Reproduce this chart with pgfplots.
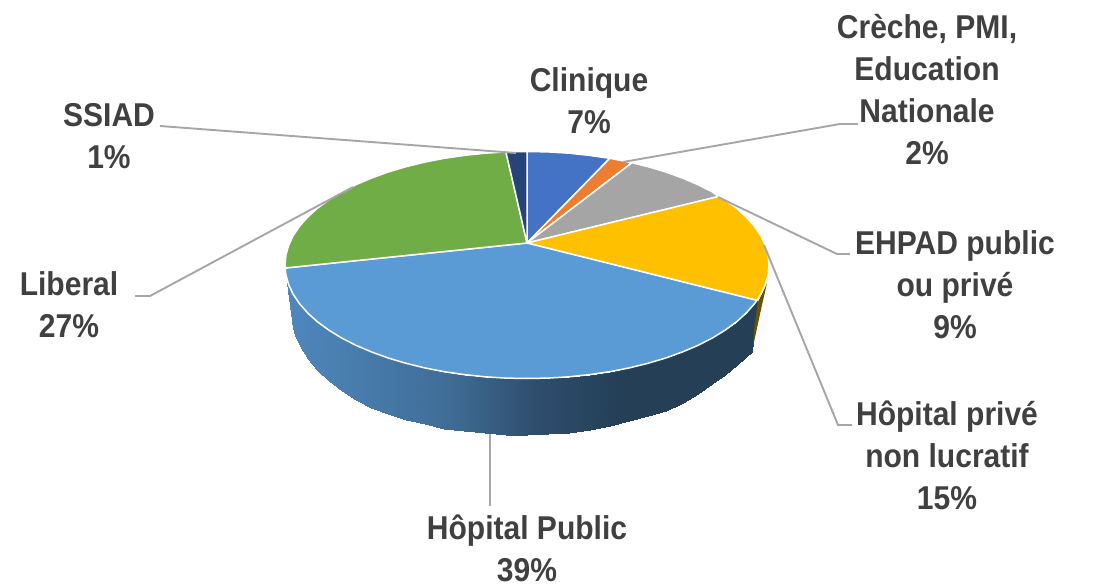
\documentclass[border=0pt]{standalone}
\usepackage{pgfplots}
\pgfplotsset{compat=1.18}
\usepackage{fontspec}
\setmainfont{Liberation Sans}[BoldFont=Liberation Sans Bold,BoldFeatures={FakeStretch=0.91}]
\definecolor{cClin}{HTML}{4472C4}
\definecolor{cCre}{HTML}{ED7D31}
\definecolor{cEhp}{HTML}{A5A5A5}
\definecolor{cPri}{HTML}{FFC000}
\definecolor{cPub}{HTML}{5B9BD5}
\definecolor{cLib}{HTML}{70AD47}
\definecolor{cSsi}{HTML}{264478}
\definecolor{cBrown}{HTML}{6B5200}
\definecolor{cLead}{HTML}{A6A6A6}
\definecolor{cTxt}{HTML}{404040}
\tikzset{
  slice/.style={draw=white, line width=1.5pt, line join=round},
  lead/.style={draw=cLead, line width=1.9pt, no markers},
  lab/.style={align=center, font=\fontsize{33}{42}\selectfont\bfseries, text=cTxt, inner sep=0pt},
}
\begin{document}
\begin{tikzpicture}
\begin{axis}[
  scale only axis, width=1094pt, height=588pt,
  xmin=0, xmax=1094, ymin=0, ymax=588, y dir=reverse,
  hide axis, clip=false,
  colormap={side}{rgb255(287pt)=(79,135,189) rgb255(450pt)=(63,109,150) rgb255(530pt)=(47,79,112) rgb255(620pt)=(36,63,86) rgb255(752pt)=(36,63,86)},
]
% side of the disc
\addplot[surf, shader=interp, mesh/rows=2, point meta=x, point meta min=287, point meta max=752] table {
x y
287 283
293.2 294.4
299.6 303.8
307.7 313
317.4 321.8
328.8 330.1
341.6 338
355.9 345.3
371.4 351.9
388.2 358
406 363.3
424.7 367.9
444.2 371.7
464.4 374.6
485 376.8
505.9 378.1
527 378.5
548.1 378.1
569 376.8
589.6 374.6
609.8 371.7
629.3 367.9
648 363.3
665.8 358
682.6 351.9
698.1 345.3
712.4 338
725.2 330.1
736.6 321.8
746.3 313
757 300
293 328
295 335
299.6 346
307.7 359
317.4 370
328.8 381
341.6 390.5
355.9 400
371.4 407.5
388.2 413.7
406 419.5
424.7 424
444.2 428.5
464.4 431.3
485 433.3
505.9 434.6
527 435
548.1 434.2
569 433
589.6 430
609.8 426
629.3 421
648 416
665.8 411
682.6 403
698.1 394
712.4 384
725.2 374.5
736.6 365
746.3 357
752 352
};
% edge of the gold slice
\addplot[fill=cBrown, draw=none] coordinates {(767,283) (762,305) (757,328) (753,347) (754,330) (757.5,303)} --cycle;
% Clinique
\addplot[slice, fill=cClin] coordinates {(527,243) (527,151.5) (548.1,151.9) (569,153.2) (589.6,155.4) (609.8,158.3)} --cycle;
% Creche
\addplot[slice, fill=cCre] coordinates {(527,243) (609.8,158.3) (632,162.7)} --cycle;
% EHPAD
\addplot[slice, fill=cEhp] coordinates {(527,243) (632,162.7) (648,166.7) (665.8,172) (682.6,178.1) (698.1,184.7) (712.4,192) (718.5,196.5)} --cycle;
% Hopital prive
\addplot[slice, fill=cPri] coordinates {(527,243) (718.5,196.5) (725.2,199.9) (736.6,208.2) (746.3,217) (754.4,226.2) (760.8,235.6) (765.3,245.3) (768.1,255.1) (769,265) (768.1,274.9) (765.3,284.7) (760.8,294.4) (757,300.4)} --cycle;
% Hopital public
\addplot[slice, fill=cPub] coordinates {(527,243) (757,300.4) (754.4,303.8) (746.3,313) (736.6,321.8) (725.2,330.1) (712.4,338) (698.1,345.3) (682.6,351.9) (665.8,358) (648,363.3) (629.3,367.9) (609.8,371.7) (589.6,374.6) (569,376.8) (548.1,378.1) (527,378.5) (505.9,378.1) (485,376.8) (464.4,374.6) (444.2,371.7) (424.7,367.9) (406,363.3) (388.2,358) (371.4,351.9) (355.9,345.3) (341.6,338) (328.8,330.1) (317.4,321.8) (307.7,313) (299.6,303.8) (293.2,294.4) (288.7,284.7) (285.9,274.9) (285.1,268)} --cycle;
% Liberal
\addplot[slice, fill=cLib] coordinates {(527,243) (285.1,268) (285,265) (285.9,255.1) (288.7,245.3) (293.2,235.6) (299.6,226.2) (307.7,217) (317.4,208.2) (328.8,199.9) (341.6,192) (355.9,184.7) (371.4,178.1) (388.2,172) (406,166.7) (424.7,162.1) (444.2,158.3) (464.4,155.4) (485,153.2) (505.9,151.9)} --cycle;
% SSIAD
\addplot[slice, fill=cSsi] coordinates {(527,243) (505.9,151.9) (527,151.5)} --cycle;
% leader lines
\addplot[lead] coordinates {(160,126) (516,153)};
\addplot[lead] coordinates {(135,296) (150,296) (353,187)};
\addplot[lead] coordinates {(858,124) (840,124) (623,162)};
\addplot[lead] coordinates {(850,254) (837,254) (718,197)};
\addplot[lead] coordinates {(852,425) (838,425) (764,245)};
\addplot[lead] coordinates {(490,434) (490,506)};
% labels
\node[lab] at (axis cs:589,101) {Clinique\\7\%};
\node[lab] at (axis cs:927,89.5) {Crèche, PMI,\\Education\\Nationale\\2\%};
\node[lab] at (axis cs:109,136) {SSIAD\\1\%};
\node[lab] at (axis cs:69,305) {Liberal\\27\%};
\node[lab] at (axis cs:955,285) {EHPAD public\\ou privé\\9\%};
\node[lab] at (axis cs:947,455) {Hôpital privé\\non lucratif\\15\%};
\node[lab] at (axis cs:527,548.5) {Hôpital Public\\39\%};
\end{axis}
\pgfresetboundingbox
\path[use as bounding box] (0,0) rectangle (1094pt,588pt);
\end{tikzpicture}
\end{document}
